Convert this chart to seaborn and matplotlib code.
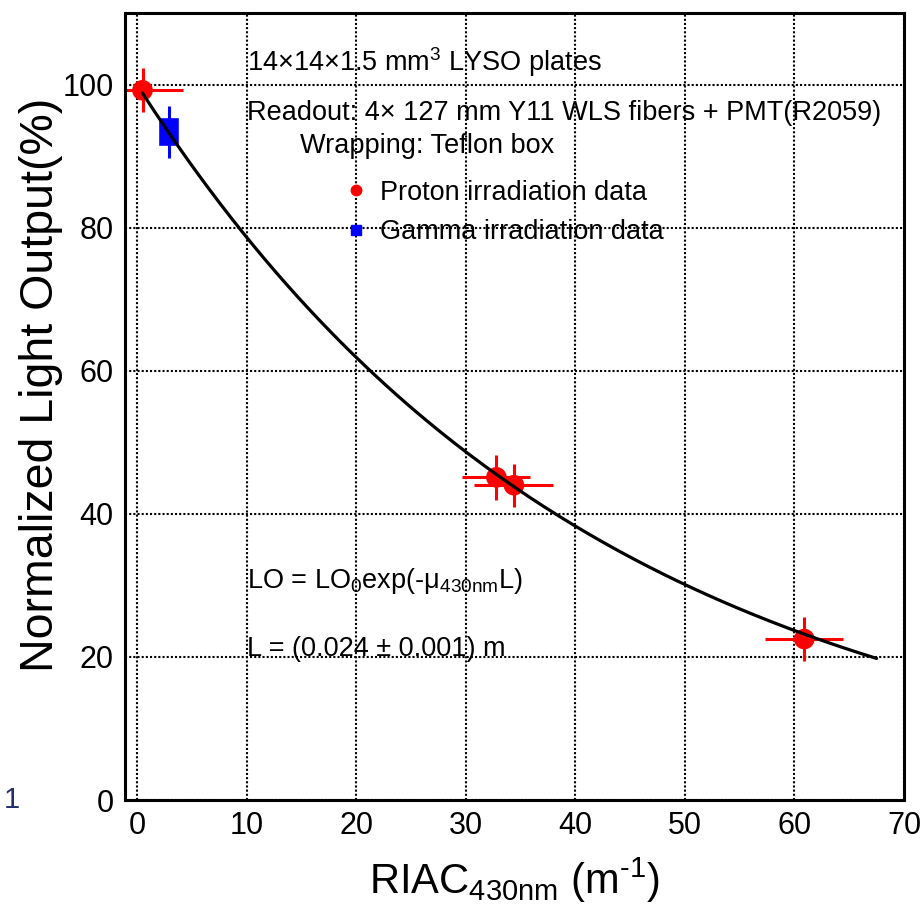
import numpy as np
import pandas as pd
import seaborn as sns
import matplotlib.pyplot as plt
from matplotlib.lines import Line2D
from matplotlib.ticker import MultipleLocator

# proton irradiation data (RIAC in m^-1, normalized LO in %)
proton_riac = [0.5, 32.8, 34.4, 60.9]
proton_lo = [99.2, 45.1, 44.0, 22.5]
proton_riac_err = [3.7, 3.1, 3.6, 3.55]
proton_lo_err = [3.1, 3.1, 3.0, 3.1]

# gamma irradiation data, drawn as a filled box plus a bar
gamma_riac = [2.9]
gamma_lo = [93.4]
gamma_box_w = [1.9]
gamma_box_h = [4.0]
gamma_lo_err = [3.6]

# fit LO = LO0 exp(-mu L), parameters as printed on the plot
lo0 = 100.0
att_len = 0.024
fit_start, fit_end = 0.5, 67.5

x_ticks = [0, 10, 20, 30, 40, 50, 60, 70]
y_ticks = [0, 20, 40, 60, 80, 100]

sns.set_style("white")
plt.rcParams['font.family'] = ['Liberation Sans', 'DejaVu Sans']
plt.rcParams['mathtext.fontset'] = 'custom'
plt.rcParams['mathtext.rm'] = 'Liberation Sans'
plt.rcParams['mathtext.default'] = 'rm'
plt.rcParams['text.color'] = 'black'
plt.rcParams['axes.labelcolor'] = 'black'
plt.rcParams['xtick.color'] = 'black'
plt.rcParams['ytick.color'] = 'black'

fig, ax = plt.subplots(figsize=(9.23, 9.05), dpi=100)
fig.subplots_adjust(left=0.1354, right=0.9794, bottom=0.116, top=0.9856)

# fit curve
fit_df = pd.DataFrame({'riac': np.linspace(fit_start, fit_end, 200)})
fit_df['lo'] = lo0 * np.exp(-fit_df['riac'] * att_len)
sns.lineplot(data=fit_df, x='riac', y='lo', color='black', lw=2.3, ax=ax, zorder=3)

# gamma point
ax.bar(gamma_riac, gamma_box_h, width=gamma_box_w,
       bottom=[y - h / 2 for y, h in zip(gamma_lo, gamma_box_h)],
       color='blue', zorder=2)
ax.errorbar(gamma_riac, gamma_lo, yerr=gamma_lo_err, fmt='none',
            ecolor='blue', elinewidth=2.2, capsize=0, zorder=2)

# proton points
ax.errorbar(proton_riac, proton_lo, xerr=proton_riac_err, yerr=proton_lo_err,
            fmt='none', ecolor='red', elinewidth=2.2, capsize=0, zorder=2)
sns.scatterplot(x=proton_riac, y=proton_lo, color='red', s=220,
                edgecolor='none', ax=ax, zorder=2)

ax.set_xlim(-1.1, 70)
ax.set_ylim(0, 110)
ax.set_xticks(x_ticks)
ax.set_yticks(y_ticks)
ax.xaxis.set_minor_locator(MultipleLocator(2))
ax.yaxis.set_minor_locator(MultipleLocator(5))
ax.tick_params(which='both', direction='in', top=False, right=False,
               width=1.6, color='black')
ax.tick_params(which='major', length=12, labelsize=22, pad=8)
ax.tick_params(which='minor', length=6)
ax.grid(True, which='major', color='black', linestyle=(0, (1, 1)), lw=1.5)
for sp in ax.spines.values():
    sp.set_linewidth(2.2)
    sp.set_color('black')

ax.set_xlabel('RIAC$_{430nm}$ (m$^{\u2010 1}$)', fontsize=30)
ax.set_ylabel('Normalized Light Output(%)', fontsize=33.5)
ax.xaxis.set_label_coords(0.5, -0.07)
ax.yaxis.set_label_coords(-0.079, 0.528)

txt_kw = dict(fontsize=19.5, va='baseline', ha='left', zorder=1)
ax.text(10, 101.9, '14×14×1.5 mm$^3$ LYSO plates', **txt_kw)
ax.text(10, 95.0, 'Readout: 4× 127 mm Y11 WLS fibers + PMT(R2059)', **txt_kw)
ax.text(14.9, 90.4, 'Wrapping: Teflon box', **txt_kw)
ax.text(10, 29.6, 'LO = LO$_0$exp(-μ$_{430nm}$L)', **txt_kw)
ax.text(10, 20.2, 'L = (0.024 ± 0.001) m', **txt_kw)

handles = [
    Line2D([], [], ls='none', marker='o', color='red', markersize=7.5),
    Line2D([], [], ls='none', marker='s', color='blue', markersize=6.5),
]
ax.legend(handles, ['Proton irradiation data', 'Gamma irradiation data'],
          loc='upper left', bbox_to_anchor=(0.279, 0.788), frameon=False,
          fontsize=19.5, handlelength=1.0, handletextpad=0.4,
          labelspacing=0.5, borderpad=0, borderaxespad=0)

fig.text(12 / 923, 1 - 800 / 905, '1', fontsize=21, color='#20306a',
         ha='center', va='center')

fig.savefig('out.png', dpi=100)
